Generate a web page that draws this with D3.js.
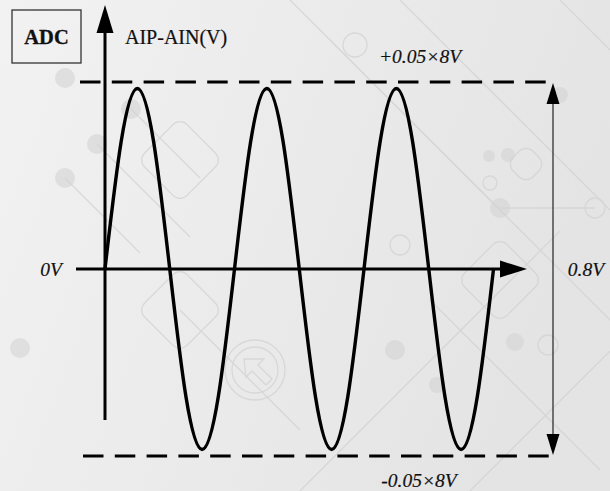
<!DOCTYPE html>
<html>
<head>
<meta charset="utf-8">
<script src="https://cdn.jsdelivr.net/npm/d3@7/dist/d3.min.js"></script>
<style>
  html, body { margin: 0; padding: 0; background: #eeeeee; }
  svg { display: block; }
</style>
</head>
<body>
<svg id="chart" width="610" height="491"></svg>
<script>
// Differential input AIP-AIN over three cycles (time in cycles, volts)
const waveT = [0, 0.125, 0.25, 0.375, 0.5, 0.625, 0.75, 0.875,
               1, 1.125, 1.25, 1.375, 1.5, 1.625, 1.75, 1.875,
               2, 2.125, 2.25, 2.375, 2.5, 2.625, 2.75, 2.875, 3];
const waveV = [0, 0.273, 0.386, 0.273, 0, -0.273, -0.386, -0.273,
               0, 0.273, 0.386, 0.273, 0, -0.273, -0.386, -0.273,
               0, 0.273, 0.386, 0.273, 0, -0.273, -0.386, -0.273, 0];

// Full-scale limits: ±0.05 × 8 V
const limitValues = [0.4, -0.4];
const limitLabels = ["+0.05×8V", "-0.05×8V"];
const zeroLabel = "0V";
const spanLabel = "0.8V";
const axisTitle = "AIP-AIN(V)";
const blockName = "ADC";

const svg = d3.select("#chart");
const W = 610, H = 491;

// ---- background with faint circuit-style watermark ----
const defs = svg.append("defs");
const bg = defs.append("linearGradient").attr("id", "bgGrad")
  .attr("x1", "0").attr("y1", "0").attr("x2", "1").attr("y2", "0.3");
bg.append("stop").attr("offset", "0").attr("stop-color", "#f2f2f2");
bg.append("stop").attr("offset", "1").attr("stop-color", "#e4e4e4");
svg.append("rect").attr("width", W).attr("height", H).attr("fill", "url(#bgGrad)");

const deco = svg.append("g").attr("fill", "none").attr("stroke", "#d2d2d2").attr("stroke-width", 1.3).attr("opacity", 0.75);
const decoLines = [
  [[65, 178], [140, 253]], [[97, 144], [190, 237]], [[131, 109], [200, 178]],
  [[290, 0], [500, 210]], [[330, 40], [610, 320]], [[400, 0], [610, 210]],
  [[180, 310], [300, 430]], [[430, 300], [600, 470]], [[300, 491], [560, 231]],
  [[560, 0], [610, 50]], [[470, 491], [610, 351]], [[500, 208], [595, 208]]
];
decoLines.forEach(l => deco.append("line")
  .attr("x1", l[0][0]).attr("y1", l[0][1]).attr("x2", l[1][0]).attr("y2", l[1][1]));
const decoRects = [[150, 130, 60, 60], [470, 250, 60, 60], [512, 150, 28, 28], [150, 280, 60, 60]];
decoRects.forEach(r => deco.append("rect")
  .attr("x", r[0]).attr("y", r[1]).attr("width", r[2]).attr("height", r[3]).attr("rx", 10)
  .attr("transform", `rotate(45 ${r[0] + r[2] / 2} ${r[1] + r[3] / 2})`));
const decoRings = [[355, 45, 12], [595, 208, 10], [490, 183, 7], [400, 245, 10], [548, 345, 10], [255, 370, 30], [255, 370, 23]];
decoRings.forEach(c => deco.append("circle").attr("cx", c[0]).attr("cy", c[1]).attr("r", c[2]));
// arrow glyph inside the ring
deco.append("path").attr("d", "M244,359 L264,359 L258,365 L272,379 L266,385 L252,371 L246,377 Z");
const decoDots = [[65, 78, 10], [97, 144, 10], [131, 109, 10], [65, 178, 10], [500, 208, 10],
                  [508, 155, 7], [489, 156, 6], [395, 350, 10], [437, 385, 8], [515, 342, 9],
                  [20, 348, 10], [560, 95, 8]];
svg.append("g").attr("fill", "#d4d4d4").attr("opacity", 0.6)
  .selectAll("circle").data(decoDots).join("circle")
  .attr("cx", d => d[0]).attr("cy", d => d[1]).attr("r", d => d[2]);

// ---- scales ----
const x = d3.scaleLinear().domain([0, 3]).range([105, 493.5]);
const y = d3.scaleLinear().domain([-0.4, 0.4]).range([456, 82]);
const x0 = x(0), y0 = y(0);

const serif = "'Liberation Serif', 'DejaVu Serif', serif";
const ink = "#000";

// arrowhead helper: tip point, direction, length, half width
function arrow(g, tx, ty, dir, len, hw) {
  let pts;
  if (dir === "up") pts = [[tx, ty], [tx - hw, ty + len], [tx + hw, ty + len]];
  else if (dir === "down") pts = [[tx, ty], [tx - hw, ty - len], [tx + hw, ty - len]];
  else pts = [[tx, ty], [tx - len, ty - hw], [tx - len, ty + hw]];
  g.append("polygon").attr("points", pts.map(p => p.join(",")).join(" ")).attr("fill", ink);
}

const g = svg.append("g");

// dashed full-scale limit lines
g.append("line").attr("x1", 80).attr("x2", 547).attr("y1", y(limitValues[0])).attr("y2", y(limitValues[0]))
  .attr("stroke", ink).attr("stroke-width", 3).attr("stroke-dasharray", "20.5 11.3");
g.append("line").attr("x1", 83).attr("x2", 549).attr("y1", y(limitValues[1])).attr("y2", y(limitValues[1]))
  .attr("stroke", ink).attr("stroke-width", 3).attr("stroke-dasharray", "20.5 11.3");

// vertical axis with arrow
g.append("line").attr("x1", x0).attr("x2", x0).attr("y1", 420).attr("y2", 25)
  .attr("stroke", ink).attr("stroke-width", 3);
arrow(g, x0, 5, "up", 28, 8.5);

// horizontal axis with arrow
g.append("line").attr("x1", 76).attr("x2", 505).attr("y1", y0).attr("y2", y0)
  .attr("stroke", ink).attr("stroke-width", 3);
arrow(g, 527, y0, "right", 27, 8.5);

// span indicator between the limits
const spanX = 553;
g.append("line").attr("x1", spanX).attr("x2", spanX).attr("y1", y(limitValues[0]) + 10).attr("y2", y(limitValues[1]) - 10)
  .attr("stroke", "#222").attr("stroke-width", 1.2);
arrow(g, spanX, y(limitValues[0]) + 1, "up", 21, 6.5);
arrow(g, spanX, y(limitValues[1]) - 1, "down", 21, 6.5);

// the waveform
const line = d3.line().x((d, i) => x(waveT[i])).y(d => y(d)).curve(d3.curveNatural);
g.append("path").datum(waveV).attr("d", line)
  .attr("fill", "none").attr("stroke", ink).attr("stroke-width", 3.4).attr("stroke-linejoin", "round");

// block label
g.append("rect").attr("x", 12).attr("y", 10).attr("width", 69).attr("height", 53)
  .attr("fill", "none").attr("stroke", "#333").attr("stroke-width", 1.3);
g.append("text").attr("x", 46.5).attr("y", 44).attr("text-anchor", "middle")
  .attr("font-family", serif).attr("font-weight", "bold").attr("font-size", 20.5).attr("fill", "#111")
  .attr("stroke", "#111").attr("stroke-width", 0.3)
  .text(blockName);

// axis title
g.append("text").attr("x", 125).attr("y", 44)
  .attr("font-family", serif).attr("font-size", 20).attr("fill", "#111")
  .attr("stroke", "#111").attr("stroke-width", 0.2).text(axisTitle);

// italic value labels
const it = (tx, ty, s, anchor) => g.append("text").attr("x", tx).attr("y", ty)
  .attr("text-anchor", anchor || "start")
  .attr("font-family", serif).attr("font-style", "italic").attr("font-size", 19.5).attr("fill", "#111")
  .attr("stroke", "#111").attr("stroke-width", 0.2).text(s);
it(420, 63, limitLabels[0], "middle");
it(419, 487, limitLabels[1], "middle");
it(51, 276, zeroLabel, "middle");
it(586, 276, spanLabel, "middle");
</script>
</body>
</html>
